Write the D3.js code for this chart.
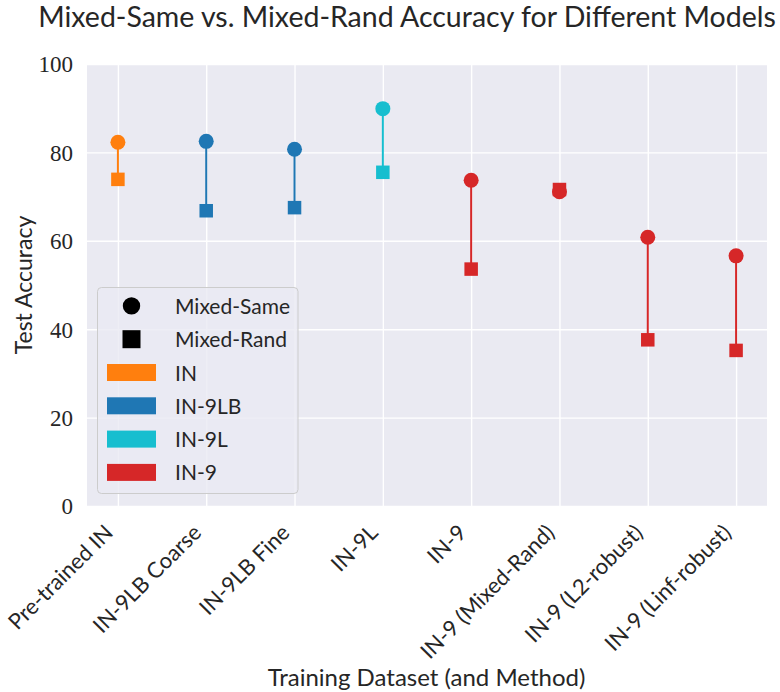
<!DOCTYPE html>
<html lang="en">
<head>
<meta charset="utf-8">
<title>Mixed-Same vs. Mixed-Rand</title>
<style>
body { margin: 0; background: #ffffff; }
svg text { fill: #262626; }
.sans { font-family: Lato, "DejaVu Sans", sans-serif; }
.serif { font-family: "Liberation Serif", serif; }
</style>
</head>
<body>
<div id="chart"></div>
<script src="https://d3js.org/d3.v7.min.js"></script>
<script>

var models = ["Pre-trained IN", "IN-9LB Coarse", "IN-9LB Fine", "IN-9L", "IN-9",
              "IN-9 (Mixed-Rand)", "IN-9 (L2-robust)", "IN-9 (Linf-robust)"];
var groups = ["IN", "IN-9LB", "IN-9LB", "IN-9L", "IN-9", "IN-9", "IN-9", "IN-9"];
var mixedSame = [82.3, 82.5, 80.7, 89.9, 73.7, 71.1, 60.8, 56.6];
var mixedRand = [73.9, 66.8, 67.5, 75.5, 53.6, 71.6, 37.6, 35.2];
var groupNames = ["IN", "IN-9LB", "IN-9L", "IN-9"];
var groupColors = ["#ff7f0e", "#1f77b4", "#17becf", "#d62728"];
var yTicks = [0, 20, 40, 60, 80, 100];

var W = 780, H = 692;
var plot = {left: 87, right: 767, top: 64, bottom: 506};

var color = d3.scaleOrdinal().domain(groupNames).range(groupColors);
var x = d3.scalePoint().domain(models).range([plot.left, plot.right]).padding(0.35);
var y = d3.scaleLinear().domain([0, 100]).range([plot.bottom, plot.top]);

var rows = models.map(function(m, i) {
  return {model: m, group: groups[i], same: mixedSame[i], rand: mixedRand[i]};
});

var svg = d3.select('#chart').append('svg')
  .attr('width', W).attr('height', H);

svg.append('rect')
  .attr('x', plot.left).attr('y', plot.top)
  .attr('width', plot.right - plot.left).attr('height', plot.bottom - plot.top)
  .attr('fill', '#eaeaf2');

// grid + ticks
var yAxis = svg.append('g')
  .attr('transform', 'translate(' + plot.left + ',0)')
  .call(d3.axisLeft(y).tickValues(yTicks).tickSize(-(plot.right - plot.left)).tickPadding(14));
yAxis.select('.domain').remove();
yAxis.selectAll('line').attr('stroke', '#ffffff').attr('stroke-width', 1.4);
yAxis.selectAll('text').attr('class', 'serif').style('font-size', '23px').attr('dy', '0.34em');

var xAxis = svg.append('g')
  .attr('transform', 'translate(0,' + plot.bottom + ')')
  .call(d3.axisBottom(x).tickSize(-(plot.bottom - plot.top)).tickPadding(0));
xAxis.select('.domain').remove();
xAxis.selectAll('line').attr('stroke', '#ffffff').attr('stroke-width', 1.4);
xAxis.selectAll('text')
  .attr('class', 'sans')
  .style('font-size', '22px')
  .attr('text-anchor', 'end')
  .attr('dy', 0)
  .attr('y', 0)
  .attr('transform', 'translate(-4,28) rotate(-45)');

// dumbbells
svg.append('g').selectAll('line')
  .data(rows).enter().append('line')
  .attr('x1', function(d) { return x(d.model); })
  .attr('x2', function(d) { return x(d.model); })
  .attr('y1', function(d) { return y(d.same); })
  .attr('y2', function(d) { return y(d.rand); })
  .attr('stroke', function(d) { return color(d.group); })
  .attr('stroke-width', 2);

svg.append('g').selectAll('circle')
  .data(rows).enter().append('circle')
  .attr('cx', function(d) { return x(d.model); })
  .attr('cy', function(d) { return y(d.same); })
  .attr('r', 7.5)
  .attr('fill', function(d) { return color(d.group); });

var sq = 13.5;
svg.append('g').selectAll('rect')
  .data(rows).enter().append('rect')
  .attr('x', function(d) { return x(d.model) - sq / 2; })
  .attr('y', function(d) { return y(d.rand) - sq / 2; })
  .attr('width', sq).attr('height', sq)
  .attr('fill', function(d) { return color(d.group); });

// legend
var leg = svg.append('g').attr('transform', 'translate(97.5,287.5)');
leg.append('rect')
  .attr('width', 200.5).attr('height', 206).attr('rx', 4)
  .attr('fill', '#eaeaf2').attr('fill-opacity', 0.8)
  .attr('stroke', '#cccccc').attr('stroke-width', 1);
var legRows = [{label: 'Mixed-Same', kind: 'circle'}, {label: 'Mixed-Rand', kind: 'square'}]
  .concat(groupNames.map(function(g) { return {label: g, kind: 'patch'}; }));
var item = leg.selectAll('g.item').data(legRows).enter().append('g')
  .attr('class', 'item')
  .attr('transform', function(d, i) { return 'translate(0,' + (18.4 + i * 33.3) + ')'; });
item.filter(function(d) { return d.kind === 'circle'; }).append('circle')
  .attr('cx', 34).attr('cy', 0).attr('r', 8.7).attr('fill', '#000');
item.filter(function(d) { return d.kind === 'square'; }).append('rect')
  .attr('x', 25).attr('y', -9).attr('width', 18).attr('height', 18).attr('fill', '#000');
item.filter(function(d) { return d.kind === 'patch'; }).append('rect')
  .attr('x', 9.5).attr('y', -8.5).attr('width', 49).attr('height', 17)
  .attr('fill', function(d) { return color(d.label); });
item.append('text')
  .attr('class', 'sans')
  .attr('x', 77.5).attr('y', 8)
  .style('font-size', '21px')
  .text(function(d) { return d.label; });

// titles
svg.append('text').attr('class', 'sans')
  .attr('x', 407).attr('y', 27)
  .attr('text-anchor', 'middle')
  .style('font-size', '28.5px')
  .text('Mixed-Same vs. Mixed-Rand Accuracy for Different Models');

svg.append('text').attr('class', 'sans')
  .attr('x', 426.5).attr('y', 686)
  .attr('text-anchor', 'middle')
  .style('font-size', '24px')
  .text('Training Dataset (and Method)');

svg.append('text').attr('class', 'sans')
  .attr('transform', 'translate(32,' + ((plot.top + plot.bottom) / 2) + ') rotate(-90)')
  .attr('text-anchor', 'middle')
  .style('font-size', '23px')
  .text('Test Accuracy');
</script>
</body>
</html>
